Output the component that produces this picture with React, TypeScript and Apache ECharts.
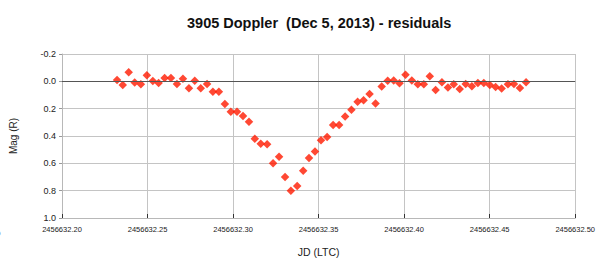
import React, { useEffect, useRef } from "react";
import * as echarts from "echarts";

const titleText = "3905 Doppler  (Dec 5, 2013) - residuals";
const xName = "JD (LTC)";
const yName = "Mag (R)";

const jd = [
  2456632.2322, 2456632.2355, 2456632.2390, 2456632.2425, 2456632.2461, 2456632.2496,
  2456632.2531, 2456632.2565, 2456632.2600, 2456632.2637, 2456632.2672, 2456632.2707,
  2456632.2742, 2456632.2776, 2456632.2811, 2456632.2848, 2456632.2882, 2456632.2917,
  2456632.2952, 2456632.2987, 2456632.3023, 2456632.3058, 2456632.3093, 2456632.3127,
  2456632.3162, 2456632.3199, 2456632.3234, 2456632.3269, 2456632.3304, 2456632.3338,
  2456632.3375, 2456632.3410, 2456632.3444, 2456632.3479, 2456632.3514, 2456632.3550,
  2456632.3585, 2456632.3620, 2456632.3655, 2456632.3692, 2456632.3728, 2456632.3763,
  2456632.3798, 2456632.3833, 2456632.3869, 2456632.3904, 2456632.3939, 2456632.3973,
  2456632.4008, 2456632.4045, 2456632.4080, 2456632.4115, 2456632.4150, 2456632.4184,
  2456632.4221, 2456632.4256, 2456632.4290, 2456632.4325, 2456632.4360, 2456632.4396,
  2456632.4431, 2456632.4466, 2456632.4501, 2456632.4535, 2456632.4570, 2456632.4607,
  2456632.4642, 2456632.4677, 2456632.4713,
];

const mag = [
  -0.009, 0.027, -0.067, 0.009, 0.021, -0.045,
  -0.002, 0.012, -0.024, -0.024, 0.019, -0.019,
  0.050, -0.005, 0.050, 0.019, 0.077, 0.077,
  0.165, 0.222, 0.222, 0.253, 0.296, 0.420,
  0.456, 0.461, 0.600, 0.552, 0.700, 0.800,
  0.766, 0.654, 0.561, 0.514, 0.432, 0.408,
  0.320, 0.320, 0.258, 0.208, 0.150, 0.138,
  0.093, 0.163, 0.038, -0.005, -0.007, 0.014,
  -0.048, -0.007, 0.021, 0.021, -0.038, 0.064,
  0.007, 0.045, 0.021, 0.057, 0.019, 0.036,
  0.012, 0.012, 0.027, 0.041, 0.052, 0.021,
  0.019, 0.048, 0.007,
];

const xMin = 2456632.2;
const xMax = 2456632.5;
const xStep = 0.05;
const yMin = -0.2;
const yMax = 1.0;
const yStep = 0.2;

export default function App() {
  const ref = useRef<HTMLDivElement>(null);
  useEffect(() => {
    if (!ref.current) return;
    const chart = echarts.init(ref.current, null, { renderer: "svg" });
    const font = "Liberation Sans, Arial, sans-serif";
    chart.setOption({
      animation: false,
      backgroundColor: "#ffffff",
      title: {
        text: titleText,
        left: 182,
        top: 10,
        textStyle: { fontFamily: font, fontSize: 14.5, fontWeight: "bold", color: "#111" },
      },
      graphic: [
        {
          type: "text",
          left: -4,
          top: 229,
          style: { text: "0", fontFamily: font, fontSize: 8, fill: "#334" },
        },
      ],
      grid: { left: 61.5, right: 17, top: 54, bottom: 39.5, containLabel: false },
      xAxis: {
        type: "value",
        min: xMin,
        max: xMax,
        interval: xStep,
        name: xName,
        nameLocation: "middle",
        nameGap: 28,
        nameTextStyle: { fontFamily: font, fontSize: 10.5, color: "#222" },
        axisLine: { onZero: false, lineStyle: { color: "#b8b8b8", width: 1 } },
        axisTick: { show: true, inside: true, length: 4, lineStyle: { color: "#333" } },
        axisLabel: {
          fontFamily: font,
          fontSize: 7.5,
          color: "#222",
          margin: 7,
          formatter: (v: number) => v.toFixed(2),
        },
        splitLine: { show: true, lineStyle: { color: "#c4c4c4", width: 1 } },
      },
      yAxis: {
        type: "value",
        inverse: true,
        min: yMin,
        max: yMax,
        interval: yStep,
        name: yName,
        nameLocation: "middle",
        nameGap: 44,
        nameRotate: 90,
        nameTextStyle: { fontFamily: font, fontSize: 10, color: "#222" },
        axisLine: { show: true, onZero: false, lineStyle: { color: "#b8b8b8" } },
        axisTick: { show: true, length: 3, lineStyle: { color: "#999" } },
        axisLabel: {
          fontFamily: font,
          fontSize: 9,
          color: "#222",
          margin: 6,
          formatter: (v: number) => v.toFixed(1),
        },
        splitLine: { show: true, lineStyle: { color: "#c4c4c4", width: 1 } },
      },
      series: [
        {
          type: "scatter",
          data: jd.map((x, i) => [x, mag[i]]),
          symbol: "diamond",
          symbolSize: 8.5,
          itemStyle: { color: "#ff1a00" },
          markLine: {
            silent: true,
            symbol: ["none", "none"],
            label: { show: false },
            lineStyle: { color: "#555", width: 1.2, type: "solid" },
            data: [{ yAxis: 0 }],
          },
          z: 3,
        },
      ],
    });
    return () => chart.dispose();
  }, []);
  return <div ref={ref} style={{ width: 598, height: 262, position: "absolute", left: 0, top: 0 }} />;
}
